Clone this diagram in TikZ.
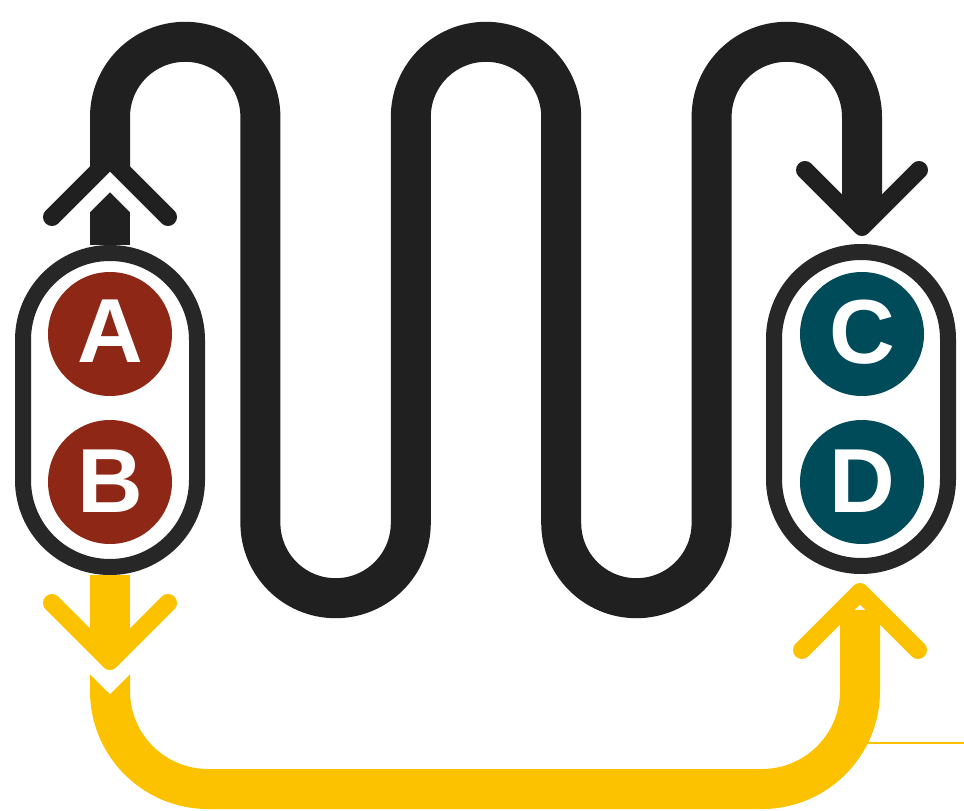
\documentclass[tikz,border=0pt]{standalone}
\usepackage{fontspec}
\setmainfont{Liberation Sans}
\definecolor{ink}{HTML}{202020}
\definecolor{ringc}{HTML}{272727}
\definecolor{rust}{HTML}{8E2715}
\definecolor{petrol}{HTML}{004B5A}
\definecolor{gold}{HTML}{FCC200}
\begin{document}
\begin{tikzpicture}[x=1pt,y=-1pt,
  capsule/.style={draw=ringc, line width=16pt, fill=white, rounded corners=86.9pt,
    minimum width=174pt, minimum height=314pt, inner sep=0pt},
  disc/.style={circle, minimum size=124pt, inner sep=0pt, text=white,
    font=\fontsize{91}{91}\selectfont\bfseries},
  blackline/.style={draw=ink, line width=40pt},
  goldline/.style={draw=gold, line width=40pt},
  chev/.style={line width=18pt, line cap=round, line join=round},
  halo/.style={draw=white, line width=47pt, line cap=round, line join=miter}
]
\useasboundingbox (0,0) rectangle (964,811);

% capsules and discs
\node[capsule] (L) at (110,410) {};
\node[capsule] (R) at (861,409) {};
\node[disc, fill=rust]   (A) at (110,334) {\raisebox{5pt}{A}};
\node[disc, fill=rust]   (B) at (110,482) {\raisebox{2pt}{B}};
\node[disc, fill=petrol] (C) at (862,334) {\raisebox{4pt}{C}};
\node[disc, fill=petrol] (D) at (862,482) {\raisebox{2pt}{D}};

% black serpentine
\coordinate (ls) at (110,170);
\coordinate (la) at (110,159);
\coordinate (ll) at (52,217);
\coordinate (lr) at (168,217);
\draw[blackline] (L.north) -- (ls);
\draw[halo] (ll) -- (la) -- (lr);
\coordinate (re) at (862,215);
\draw[blackline] (110,168) -- (110,117)
  arc[start angle=180, end angle=0, radius=75.2pt] -- (260.4,523)
  arc[start angle=180, end angle=360, radius=75.2pt] -- (410.8,117)
  arc[start angle=180, end angle=0, radius=75.2pt] -- (561.2,523)
  arc[start angle=180, end angle=360, radius=75.2pt] -- (711.6,117)
  arc[start angle=180, end angle=0, radius=75.2pt] -- (re);
\draw[chev, draw=ink] (ll) -- (la) -- (lr);
\coordinate (ra) at (862,227);
\draw[chev, draw=ink] (805,170) -- (ra) -- (919,170);

% yellow return
\coordinate (ts) at (960,743);
\draw[gold, line width=2.7pt] (860,743) -- (964,743);
\coordinate (ya) at (110,661);
\coordinate (yl) at (52,603);
\coordinate (yr) at (168,603);
\coordinate (yb) at (860,592);
\draw[goldline] (110,655) -- (110,691)
  arc[start angle=180, end angle=270, radius=98pt] -- (762,789)
  arc[start angle=270, end angle=360, radius=98pt] -- (860,610);
\draw[halo] (yl) -- (ya) -- (yr);
\draw[goldline] (L.south) -- (110,650);
\draw[chev, draw=gold] (yl) -- (ya) -- (yr);
\draw[chev, draw=gold] (802,650) -- (yb) -- (918,650);
\end{tikzpicture}
\end{document}
